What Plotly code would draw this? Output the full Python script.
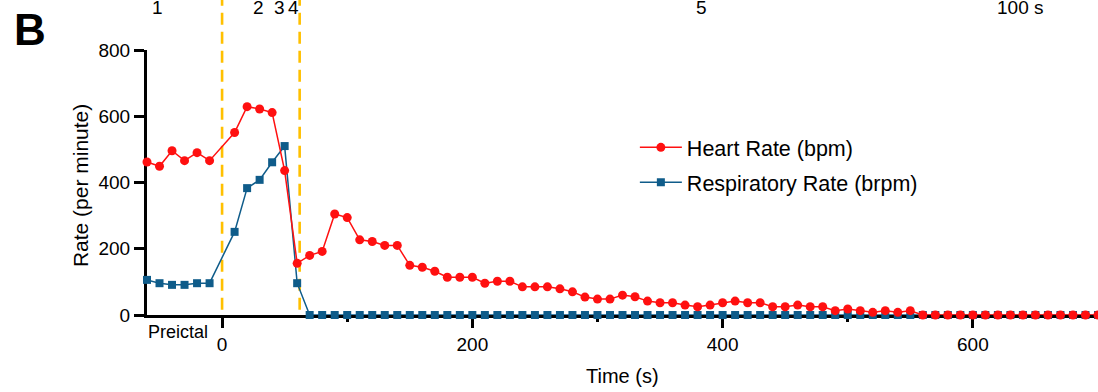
import plotly.graph_objects as go

# Sampling times (s); no sample at t = 0
times = [-60, -50, -40, -30, -20, -10,
         10, 20, 30, 40, 50, 60, 70, 80, 90, 100,
         110, 120, 130, 140, 150, 160, 170, 180, 190, 200,
         210, 220, 230, 240, 250, 260, 270, 280, 290, 300,
         310, 320, 330, 340, 350, 360, 370, 380, 390, 400,
         410, 420, 430, 440, 450, 460, 470, 480, 490, 500,
         510, 520, 530, 540, 550, 560, 570, 580, 590, 600,
         610, 620, 630, 640, 650, 660, 670, 680, 690, 700]

heart_rate = [462, 449, 496, 466, 490, 466,
              551, 629, 622, 611, 436, 156, 180, 192, 305, 294,
              227, 222, 210, 210, 150, 144, 132, 114, 114, 114,
              96, 102, 102, 85, 85, 85, 79, 70, 54, 48,
              48, 60, 55, 42, 37, 37, 30, 25, 30, 37,
              42, 37, 37, 25, 25, 30, 25, 25, 13, 18,
              13, 8, 13, 8, 13, 0, 0, 0, 0, 0,
              0, 0, 0, 0, 0, 0, 0, 0, 0, 0]

resp_rate = [106, 96, 91, 91, 96, 96,
             251, 383, 408, 461, 510, 96, 0, 0, 0, 0,
             0, 0, 0, 0, 0, 0, 0, 0, 0, 0,
             0, 0, 0, 0, 0, 0, 0, 0, 0, 0,
             0, 0, 0, 0, 0, 0, 0, 0, 0, 0,
             0, 0, 0, 0, 0, 0, 0, 0, 0, 0,
             0, 0, 0, 0, 0, 0, 0, 0, 0, 0,
             0, 0, 0, 0, 0, 0, 0, 0, 0, 0]

# Seizure boundaries (s)
seizure_bounds = [0, 62]

# Event markers along the top
event_labels = ["1", "2", "3", "4", "5", "100 s"]
event_times = [-52, 29, 46, 57, 383, 638]

y_ticks = [0, 200, 400, 600, 800]
x_ticks = [0, 200, 400, 600]

FONT = "Arial, Liberation Sans, sans-serif"
RED = "#FF1010"
BLUE = "#0F5C8A"
GOLD = "#FFC000"

fig = go.Figure()

fig.add_trace(go.Scatter(
    x=times, y=resp_rate, mode="lines+markers",
    name="Respiratory Rate (brpm)", legendrank=2, legendgroup="rr",
    line=dict(color=BLUE, width=1.5),
    marker=dict(symbol="square", size=8, color=BLUE),
    cliponaxis=False,
))
fig.add_trace(go.Scatter(
    x=times, y=heart_rate, mode="lines+markers",
    name="Heart Rate (bpm)", legendrank=1, legendgroup="hr",
    line=dict(color=RED, width=1.5),
    marker=dict(symbol="circle", size=9, color=RED),
    cliponaxis=False,
))

for t in seizure_bounds:
    fig.add_shape(type="line", xref="x", yref="paper",
                  x0=t, x1=t, y0=0.02, y1=1.19,
                  line=dict(color=GOLD, width=2.6, dash="12px,7px"),
                  layer="below")

annotations = []
for lab, t in zip(event_labels, event_times):
    annotations.append(dict(x=t, xref="x", y=1.162, yref="paper",
                            text=lab, showarrow=False,
                            font=dict(size=19, color="black", family=FONT),
                            xanchor="center", yanchor="middle"))
annotations += [
    dict(x=-0.123, xref="paper", y=1.079, yref="paper", text="<b>B</b>",
         showarrow=False, font=dict(size=44, color="black", family=FONT),
         xanchor="center", yanchor="middle"),
    dict(x=-35, xref="x", y=-0.064, yref="paper", text="Preictal",
         showarrow=False, font=dict(size=18, color="black", family=FONT),
         xanchor="center", yanchor="middle"),
    dict(x=0.4995, xref="paper", y=-0.23, yref="paper", text="Time (s)",
         showarrow=False, font=dict(size=20, color="black", family=FONT),
         xanchor="center", yanchor="middle"),
    dict(x=-0.0705, xref="paper", y=0.49, yref="paper", text="Rate (per minute)",
         textangle=-90, showarrow=False,
         font=dict(size=21, color="black", family=FONT),
         xanchor="center", yanchor="middle"),
]

fig.update_layout(
    width=1098, height=392,
    margin=dict(l=147, r=0, t=50, b=77),
    paper_bgcolor="white", plot_bgcolor="white",
    font=dict(family=FONT, color="black", size=19),
    showlegend=True,
    legend=dict(x=0.513, y=0.71, xanchor="left", yanchor="top",
                font=dict(size=21.5, family=FONT, color="black"),
                bgcolor="rgba(0,0,0,0)", tracegroupgap=4,
                itemwidth=42),
    annotations=annotations,
    xaxis=dict(range=[-60, 700], tickvals=x_ticks, ticktext=[str(v) for v in x_ticks],
               showgrid=False, zeroline=False, showline=True,
               linecolor="black", linewidth=3,
               ticks="outside", ticklen=10, tickwidth=3, tickcolor="black",
               tickfont=dict(size=19), layer="below traces",
               minor=dict(tickvals=[100, 300, 500], ticks="outside",
                          ticklen=4, tickwidth=2.5, tickcolor="black")),
    yaxis=dict(range=[0, 800], tickvals=y_ticks, ticktext=[str(v) for v in y_ticks],
               showgrid=False, zeroline=False, showline=True,
               linecolor="black", linewidth=3,
               ticks="outside", ticklen=10, tickwidth=3, tickcolor="black",
               tickfont=dict(size=19), layer="below traces"),
)

fig.write_html("out.html")
